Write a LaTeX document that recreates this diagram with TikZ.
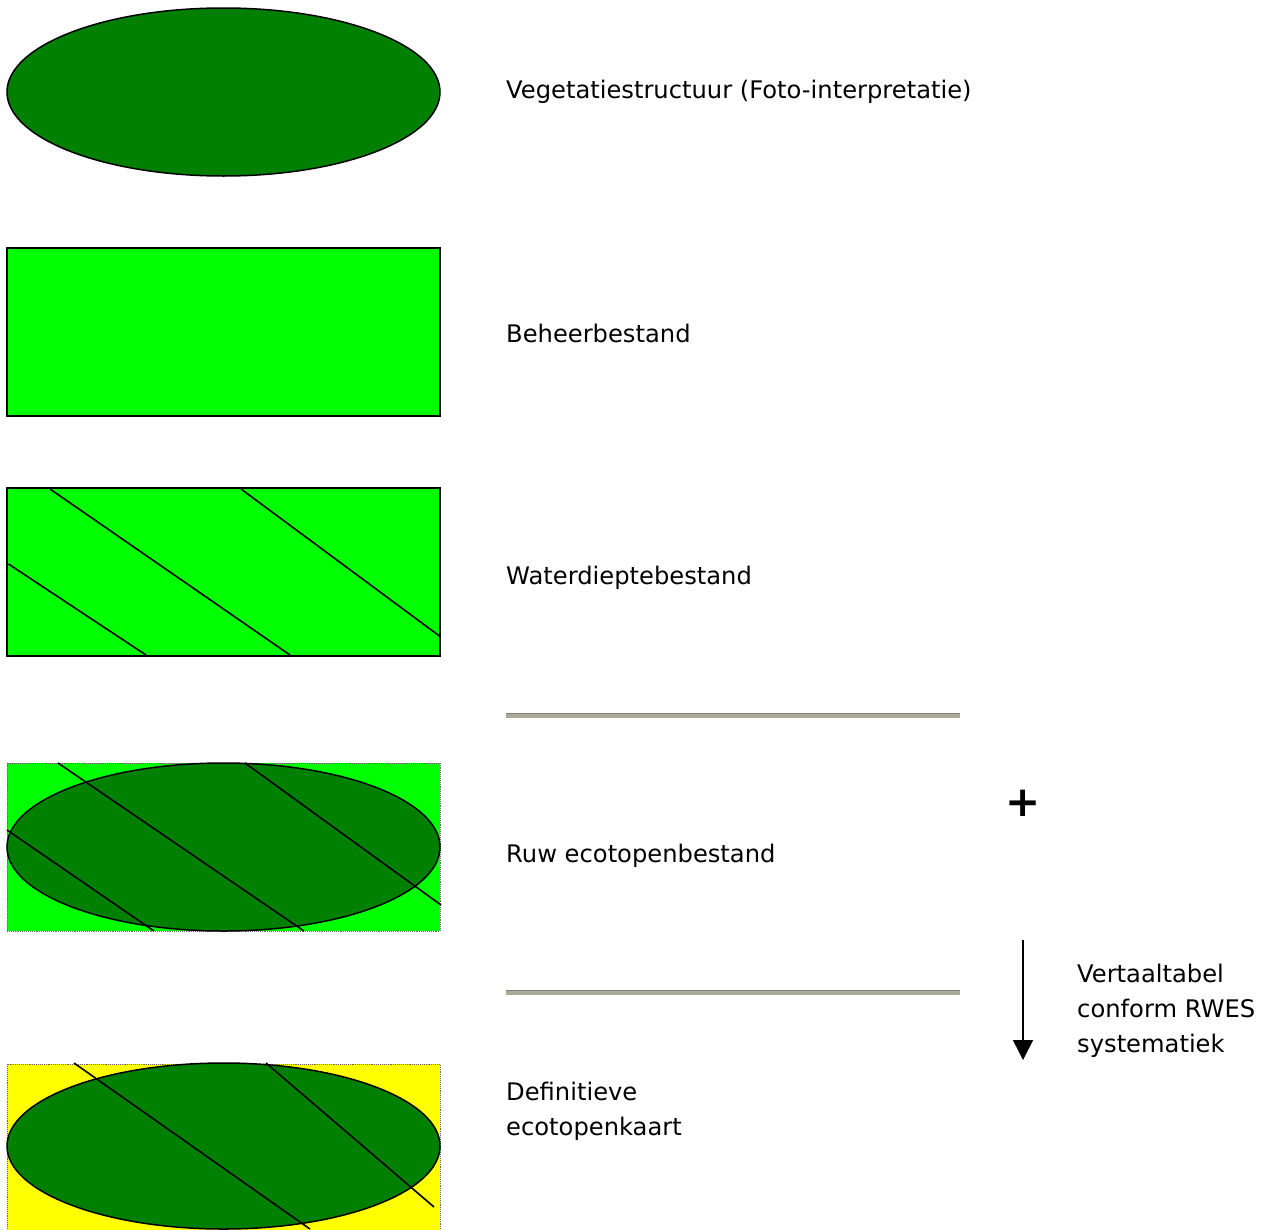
\documentclass[tikz,border=0pt]{standalone}
\usepackage{fontspec}
\setmainfont{DejaVu Sans}
\usetikzlibrary{shapes.geometric,arrows.meta}
\definecolor{darkgrn}{RGB}{0,128,0}
\definecolor{limegrn}{RGB}{0,255,0}
\definecolor{yelw}{RGB}{255,255,0}
\definecolor{sepbody}{RGB}{172,168,153}
\definecolor{septop}{RGB}{128,128,128}
\tikzset{
  layer/.style={minimum width=433pt, minimum height=168pt, inner sep=0pt, outer sep=0pt},
  vegshape/.style={layer, ellipse, draw=black, line width=1.5pt, fill=darkgrn},
  solidbox/.style={layer, rectangle, draw=black, line width=1.6pt, fill=limegrn},
  dotbox/.style={layer, rectangle, draw=black!60, densely dotted, line width=0.9pt},
  hatch/.style={draw=black, line width=1.6pt},
  lbl/.style={anchor=base west, inner sep=0pt, font=\fontsize{24.2}{35}\selectfont, align=left},
  sepline/.style={fill=sepbody},
}
\begin{document}
\begin{tikzpicture}[x=1pt,y=-1pt]
  \useasboundingbox (0,0) rectangle (1273,1229);
  \fill[white] (0,0) rectangle (1273,1229);
  \clip (0,0) rectangle (1273,1229);

  % 1: vegetation structure
  \node[vegshape] (veg) at (223.5,92) {};

  % 2: management file
  \node[solidbox] (beh) at (223.5,332) {};

  % 3: water depth file with depth contours
  \node[solidbox] (wat) at (223.5,572) {};
  \draw[hatch] (50,489) -- (290,655);
  \draw[hatch] (241,489) -- (439.5,636);
  \draw[hatch] (8.5,564) -- (146,655);

  % 4: raw ecotope file (overlay)
  \node[dotbox, fill=limegrn] (ruw) at (223.5,847) {};
  \node[vegshape] (ruwveg) at (223.5,847) {};
  \draw[hatch] (58,763) -- (304,931);
  \draw[hatch] (245,763) -- (441,905);
  \draw[hatch] (7,830) -- (154,931);

  % 5: final ecotope map
  \node[dotbox, fill=yelw, minimum height=190pt, anchor=north] (def) at (223.5,1064) {};
  \node[vegshape, minimum height=166pt] (defveg) at (223.5,1146) {};
  \draw[hatch] (74,1063) -- (310,1229);
  \draw[hatch] (266,1063) -- (434,1207);

  % labels (base anchor of a multi-line node is its last line)
  \node[lbl] (tveg) at (506,98) {Vegetatiestructuur (Foto-interpretatie)};
  \node[lbl] (tbeh) at (506,342) {Beheerbestand};
  \node[lbl] (twat) at (506,584) {Waterdieptebestand};
  \node[lbl] (truw) at (506,862) {Ruw ecotopenbestand};
  \node[lbl] (tdef) at (506,1135) {Definitieve\\ecotopenkaart};

  % separators
  \fill[sepline] (506,713) rectangle (960,717.5);
  \draw[septop, line width=1pt] (506,713.5) -- (960,713.5);
  \fill[sepline] (506,990) rectangle (960,994.5);
  \draw[septop, line width=1pt] (506,990.5) -- (960,990.5);

  % plus sign and translation arrow
  \node[inner sep=0pt, font=\fontsize{42}{42}\selectfont\bfseries] (plus) at (1023,803) {+};
  \coordinate (atop) at (1023,940);
  \coordinate (abot) at (1023,1060);
  \draw[line width=1.6pt, -{Triangle[width=20pt,length=20pt]}] (atop) -- (abot);
  \node[lbl] (tvert) at (1077,1052) {Vertaaltabel\\conform RWES\\systematiek};
\end{tikzpicture}
\end{document}
